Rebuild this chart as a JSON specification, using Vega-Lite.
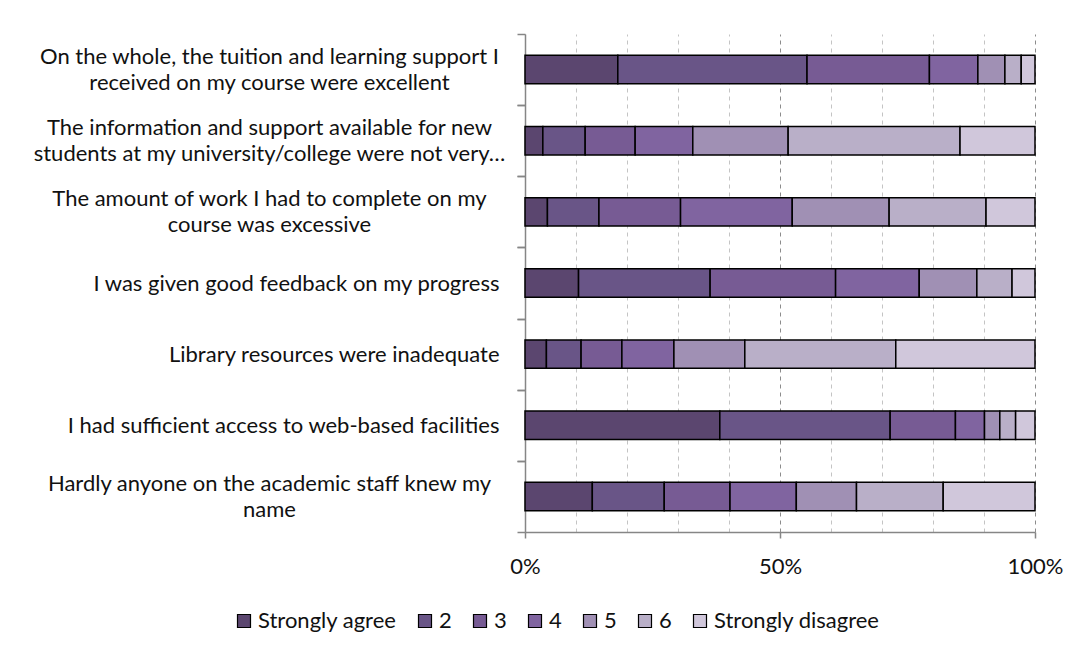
{
  "$schema": "https://vega.github.io/schema/vega-lite/v6.json",
  "width": 510,
  "height": 498,
  "autosize": {"type": "none"},
  "padding": {"left": 525, "top": 34, "right": 42, "bottom": 114},
  "background": "white",
  "data": {
    "values": [
      {"question": "On the whole, the tuition and learning support I received on my course were excellent", "level": 1, "percent": 18.2},
      {"question": "On the whole, the tuition and learning support I received on my course were excellent", "level": 2, "percent": 37.1},
      {"question": "On the whole, the tuition and learning support I received on my course were excellent", "level": 3, "percent": 24.0},
      {"question": "On the whole, the tuition and learning support I received on my course were excellent", "level": 4, "percent": 9.5},
      {"question": "On the whole, the tuition and learning support I received on my course were excellent", "level": 5, "percent": 5.3},
      {"question": "On the whole, the tuition and learning support I received on my course were excellent", "level": 6, "percent": 3.2},
      {"question": "On the whole, the tuition and learning support I received on my course were excellent", "level": 7, "percent": 2.7},
      {"question": "The information and support available for new students at my university/college were not very…", "level": 1, "percent": 3.5},
      {"question": "The information and support available for new students at my university/college were not very…", "level": 2, "percent": 8.3},
      {"question": "The information and support available for new students at my university/college were not very…", "level": 3, "percent": 9.8},
      {"question": "The information and support available for new students at my university/college were not very…", "level": 4, "percent": 11.3},
      {"question": "The information and support available for new students at my university/college were not very…", "level": 5, "percent": 18.7},
      {"question": "The information and support available for new students at my university/college were not very…", "level": 6, "percent": 33.7},
      {"question": "The information and support available for new students at my university/college were not very…", "level": 7, "percent": 14.7},
      {"question": "The amount of work I had to complete on my course was excessive", "level": 1, "percent": 4.4},
      {"question": "The amount of work I had to complete on my course was excessive", "level": 2, "percent": 10.1},
      {"question": "The amount of work I had to complete on my course was excessive", "level": 3, "percent": 16.0},
      {"question": "The amount of work I had to complete on my course was excessive", "level": 4, "percent": 21.9},
      {"question": "The amount of work I had to complete on my course was excessive", "level": 5, "percent": 19.0},
      {"question": "The amount of work I had to complete on my course was excessive", "level": 6, "percent": 19.0},
      {"question": "The amount of work I had to complete on my course was excessive", "level": 7, "percent": 9.6},
      {"question": "I was given good feedback on my progress", "level": 1, "percent": 10.5},
      {"question": "I was given good feedback on my progress", "level": 2, "percent": 25.8},
      {"question": "I was given good feedback on my progress", "level": 3, "percent": 24.6},
      {"question": "I was given good feedback on my progress", "level": 4, "percent": 16.4},
      {"question": "I was given good feedback on my progress", "level": 5, "percent": 11.3},
      {"question": "I was given good feedback on my progress", "level": 6, "percent": 6.9},
      {"question": "I was given good feedback on my progress", "level": 7, "percent": 4.5},
      {"question": "Library resources were inadequate", "level": 1, "percent": 4.2},
      {"question": "Library resources were inadequate", "level": 2, "percent": 6.8},
      {"question": "Library resources were inadequate", "level": 3, "percent": 8.0},
      {"question": "Library resources were inadequate", "level": 4, "percent": 10.2},
      {"question": "Library resources were inadequate", "level": 5, "percent": 13.9},
      {"question": "Library resources were inadequate", "level": 6, "percent": 29.6},
      {"question": "Library resources were inadequate", "level": 7, "percent": 27.3},
      {"question": "I had sufficient access to web-based facilities", "level": 1, "percent": 38.2},
      {"question": "I had sufficient access to web-based facilities", "level": 2, "percent": 33.4},
      {"question": "I had sufficient access to web-based facilities", "level": 3, "percent": 12.8},
      {"question": "I had sufficient access to web-based facilities", "level": 4, "percent": 5.7},
      {"question": "I had sufficient access to web-based facilities", "level": 5, "percent": 3.0},
      {"question": "I had sufficient access to web-based facilities", "level": 6, "percent": 3.1},
      {"question": "I had sufficient access to web-based facilities", "level": 7, "percent": 3.8},
      {"question": "Hardly anyone on the academic staff knew my name", "level": 1, "percent": 13.2},
      {"question": "Hardly anyone on the academic staff knew my name", "level": 2, "percent": 14.1},
      {"question": "Hardly anyone on the academic staff knew my name", "level": 3, "percent": 12.9},
      {"question": "Hardly anyone on the academic staff knew my name", "level": 4, "percent": 13.0},
      {"question": "Hardly anyone on the academic staff knew my name", "level": 5, "percent": 11.8},
      {"question": "Hardly anyone on the academic staff knew my name", "level": 6, "percent": 17.0},
      {"question": "Hardly anyone on the academic staff knew my name", "level": 7, "percent": 18.0}
    ]
  },
  "layer": [
    {
      "mark": {"type": "bar", "stroke": "#000000", "strokeWidth": 1.5},
      "encoding": {
        "y": {
          "field": "question",
          "type": "nominal",
          "sort": null,
          "title": null,
          "scale": {"paddingInner": 0.6, "paddingOuter": 0.3},
          "axis": {
            "orient": "left",
            "domainColor": "#868686",
            "domainWidth": 1.5,
            "tickColor": "#868686",
            "tickWidth": 1.5,
            "tickSize": 8,
            "tickOffset": 35.57,
            "labelOffset": -35.57,
            "labelFont": "Lato",
            "labelFontSize": 22,
            "labelColor": "#111111",
            "labelLimit": 0,
            "labelAlign": "right",
            "labelBaseline": "middle",
            "labelPadding": 18,
            "labelExpr": "indexof(['I was given good feedback on my progress', 'Library resources were inadequate', 'I had sufficient access to web-based facilities'], datum.value) >= 0 ? datum.label : ''"
          }
        },
        "x": {
          "field": "percent",
          "type": "quantitative",
          "stack": "normalize",
          "title": null,
          "scale": {"domain": [0, 1], "nice": false},
          "axis": {
            "values": [0, 0.1, 0.2, 0.3, 0.4, 0.5, 0.6, 0.7, 0.8, 0.9, 1],
            "format": ".0%",
            "labelExpr": "(datum.value == 0 || datum.value == 0.5 || datum.value == 1) ? datum.label : ''",
            "domainColor": "#868686",
            "domainWidth": 1.5,
            "tickColor": "#868686",
            "tickWidth": 1.5,
            "tickSize": 6,
            "tickOpacity": {"condition": {"test": "datum.value == 0 || datum.value == 0.5 || datum.value == 1", "value": 1}, "value": 0},
            "grid": true,
            "gridDash": [4, 4],
            "gridWidth": 1,
            "gridColor": {"condition": {"test": "datum.value == 0.5 || datum.value == 1", "value": "#8c8c8c"}, "value": "#c4c4c4"},
            "labelFont": "Lato",
            "labelFontSize": 22,
            "labelColor": "#111111",
            "labelPadding": 18,
            "labelFlush": false
          }
        },
        "color": {
          "field": "level",
          "type": "ordinal",
          "scale": {
            "domain": [1, 2, 3, 4, 5, 6, 7],
            "range": ["#5b466f", "#695587", "#775b94", "#8064a0", "#a090b4", "#b9afc8", "#d0c7db"]
          },
          "legend": {
            "title": null,
            "orient": "none",
            "legendX": -292,
            "legendY": 576,
            "direction": "horizontal",
            "columns": 7,
            "symbolType": "square",
            "symbolSize": 169,
            "symbolStrokeColor": "#000000",
            "symbolStrokeWidth": 1.2,
            "symbolOpacity": 1,
            "labelFont": "Lato",
            "labelFontSize": 22,
            "labelColor": "#111111",
            "labelLimit": 0,
            "labelOffset": 3,
            "columnPadding": 17,
            "labelExpr": "datum.label == '1' ? 'Strongly agree' : datum.label == '7' ? 'Strongly disagree' : datum.label"
          }
        },
        "order": {"field": "level", "type": "quantitative"}
      }
    },
    {
      "mark": {"type": "bar", "opacity": 0},
      "encoding": {
        "y": {
          "field": "question",
          "type": "nominal",
          "sort": null,
          "title": null,
          "scale": {"paddingInner": 0.6, "paddingOuter": 0.3},
          "axis": {
            "orient": "left",
            "domain": false,
            "ticks": true,
            "tickColor": "#868686",
            "tickWidth": 1.5,
            "tickSize": 8,
            "tickOffset": -35.57,
            "grid": false,
            "labelFont": "Lato",
            "labelFontSize": 22,
            "labelColor": "#111111",
            "labelLimit": 0,
            "labelAlign": "center",
            "labelBaseline": "middle",
            "labelLineHeight": 26,
            "labelOffset": 22.57,
            "labelPadding": 248,
            "labelExpr": "indexof(datum.value, 'On the whole') == 0 ? ['On the whole, the tuition and learning support I', 'received on my course were excellent'] : indexof(datum.value, 'The information') == 0 ? ['The information and support available for new', 'students at my university/college were not very…'] : indexof(datum.value, 'The amount') == 0 ? ['The amount of work I had to complete on my', 'course was excessive'] : indexof(datum.value, 'Hardly') == 0 ? ['Hardly anyone on the academic staff knew my', 'name'] : ''"
          }
        }
      }
    }
  ],
  "resolve": {"scale": {"y": "independent"}, "axis": {"y": "independent"}},
  "config": {"view": {"stroke": null}}
}
